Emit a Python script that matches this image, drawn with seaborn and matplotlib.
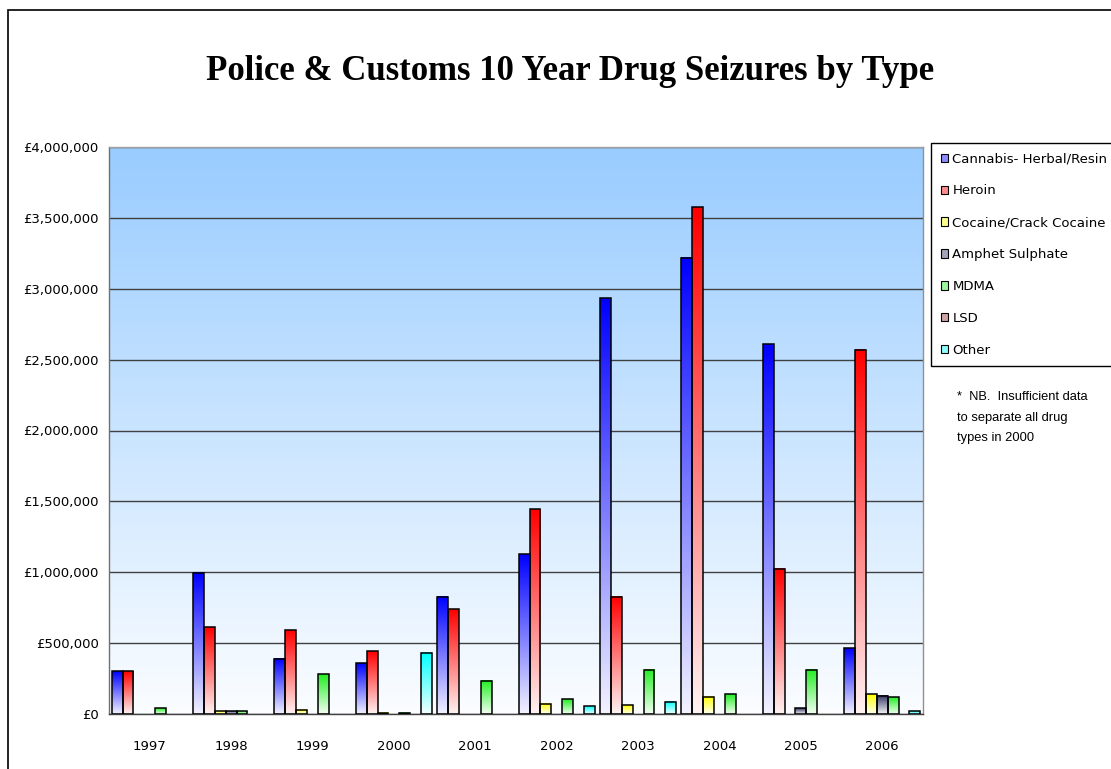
import numpy as np
import pandas as pd
import seaborn as sns
import matplotlib
matplotlib.use("Agg")
import matplotlib.pyplot as plt
from matplotlib.colors import LinearSegmentedColormap, to_rgb
from matplotlib.patches import Patch, Rectangle
from matplotlib.ticker import FuncFormatter, FixedLocator

# Données (valeur des saisies en £)
years = ["1997", "1998", "1999", "2000", "2001", "2002", "2003", "2004", "2005", "2006"]
drugs = ["Cannabis- Herbal/Resin", "Heroin", "Cocaine/Crack Cocaine",
         "Amphet Sulphate", "MDMA", "LSD", "Other"]

cannabis = [300000, 995000, 391000, 358000, 827000, 1127000, 2934000, 3220000, 2610000, 465000]
heroin = [300000, 613000, 590000, 443000, 740000, 1443000, 827000, 3575000, 1023000, 2569000]
cocaine = [0, 20000, 30000, 8000, 0, 72000, 63000, 120000, 0, 138000]
amphet = [0, 20000, 0, 0, 0, 0, 0, 0, 42000, 129000]
mdma = [40000, 20000, 280000, 8000, 235000, 105000, 311000, 140000, 311000, 117000]
lsd = [0, 0, 0, 0, 0, 0, 0, 0, 0, 0]
other = [0, 0, 0, 431000, 0, 54000, 87000, 0, 0, 21000]

colors = ["#0000FF", "#FF0000", "#FFFF00", "#333366", "#22EE22", "#993333", "#00FFFF"]

series = [cannabis, heroin, cocaine, amphet, mdma, lsd, other]
df = pd.DataFrame({
    "Year": np.tile(years, len(drugs)),
    "Drug": np.repeat(drugs, len(years)),
    "Value": np.concatenate(series),
})

sns.set_style("white")
plt.rcParams["font.family"] = ["DejaVu Sans"]
plt.rcParams["text.color"] = "black"
plt.rcParams["xtick.color"] = "black"
plt.rcParams["ytick.color"] = "black"

fig = plt.figure(figsize=(11.11, 7.69), dpi=100)
ax = fig.add_axes([109 / 1111, 1 - 714 / 769, (923 - 109) / 1111, (714 - 147) / 769])

sns.barplot(data=df, x="Year", y="Value", hue="Drug", hue_order=drugs,
            palette=colors, width=0.935, saturation=1, errorbar=None,
            legend=False, ax=ax)

# dégradé du fond de la zone de tracé
bg = LinearSegmentedColormap.from_list("bg", ["#FBFDFF", "#99CCFF"])
ax.imshow(np.linspace(0, 1, 256).reshape(-1, 1), extent=[-0.5, 9.5, 0, 4e6],
          origin="lower", aspect="auto", cmap=bg, zorder=0)

# dégradé de chaque barre (couleur en haut, blanc en bas)
grad = np.linspace(0.05, 1, 256).reshape(-1, 1)
for cont, col in zip(ax.containers, colors):
    cmap = LinearSegmentedColormap.from_list("g", ["white", col])
    for bar in cont:
        h = bar.get_height()
        if h <= 0:
            bar.set_visible(False)
            continue
        x0 = bar.get_x()
        x1 = x0 + bar.get_width()
        ax.imshow(grad, extent=[x0, x1, 0, h], origin="lower", aspect="auto",
                  cmap=cmap, vmin=0, vmax=1, zorder=2, interpolation="bilinear")
        bar.set_facecolor("none")
        bar.set_edgecolor("black")
        bar.set_linewidth(1.1)
        bar.set_zorder(3)

ax.set_xlim(-0.5, 9.5)
ax.set_ylim(0, 4000000)
ax.set_yticks(np.arange(0, 4000001, 500000))
ax.yaxis.set_major_formatter(FuncFormatter(lambda v, p: f"£{v:,.0f}"))
ax.yaxis.grid(True, color="#404040", lw=1)
ax.set_axisbelow(True)

ax.xaxis.set_minor_locator(FixedLocator(np.arange(-0.5, 10, 1)))
ax.tick_params(axis="x", which="major", length=0, pad=19, labelsize=9.5)
ax.tick_params(axis="x", which="minor", length=5, width=1, color="#404040", direction="out")
ax.tick_params(axis="y", length=4.5, width=1, color="#404040", direction="out", pad=3, labelsize=9.5)
ax.set_xlabel("")
ax.set_ylabel("")

for side, c in [("left", "#707070"), ("bottom", "#404040"), ("top", "#A0A0A0"), ("right", "#909090")]:
    ax.spines[side].set_visible(True)
    ax.spines[side].set_color(c)
    ax.spines[side].set_linewidth(1)

# légende
handles = []
for col in colors:
    r, g, b = to_rgb(col)
    light = (0.45 * r + 0.55, 0.45 * g + 0.55, 0.45 * b + 0.55)
    handles.append(Patch(facecolor=light, edgecolor="black", linewidth=0.8))
leg = fig.legend(handles, drugs, loc="upper left", bbox_to_anchor=(931 / 1111, 1 - 143 / 769),
                 frameon=True, fancybox=False, framealpha=1, edgecolor="black",
                 fontsize=9.5, handlelength=0.6, handleheight=0.6, handletextpad=0.3,
                 labelspacing=1.43, borderpad=0.72, borderaxespad=0)
leg.get_frame().set_linewidth(1)

fig.text(957 / 1111, 1 - 391 / 769, "*  NB.  Insufficient data\nto separate all drug\ntypes in 2000",
         family="Liberation Sans", fontsize=9.3, va="top", ha="left", linespacing=1.95)

fig.text(570 / 1111, 1 - 71 / 769, "Police & Customs 10 Year Drug Seizures by Type",
         family="Liberation Serif", weight="bold", fontsize=25, ha="center", va="center",
         color="black")

# cadre de la zone de graphique
fig.add_artist(Rectangle((8 / 1111, -0.1), 1.2, 1 - 10 / 769 + 0.1, transform=fig.transFigure,
                         fill=False, edgecolor="black", linewidth=1.2))

fig.savefig("out.png", dpi=100)
